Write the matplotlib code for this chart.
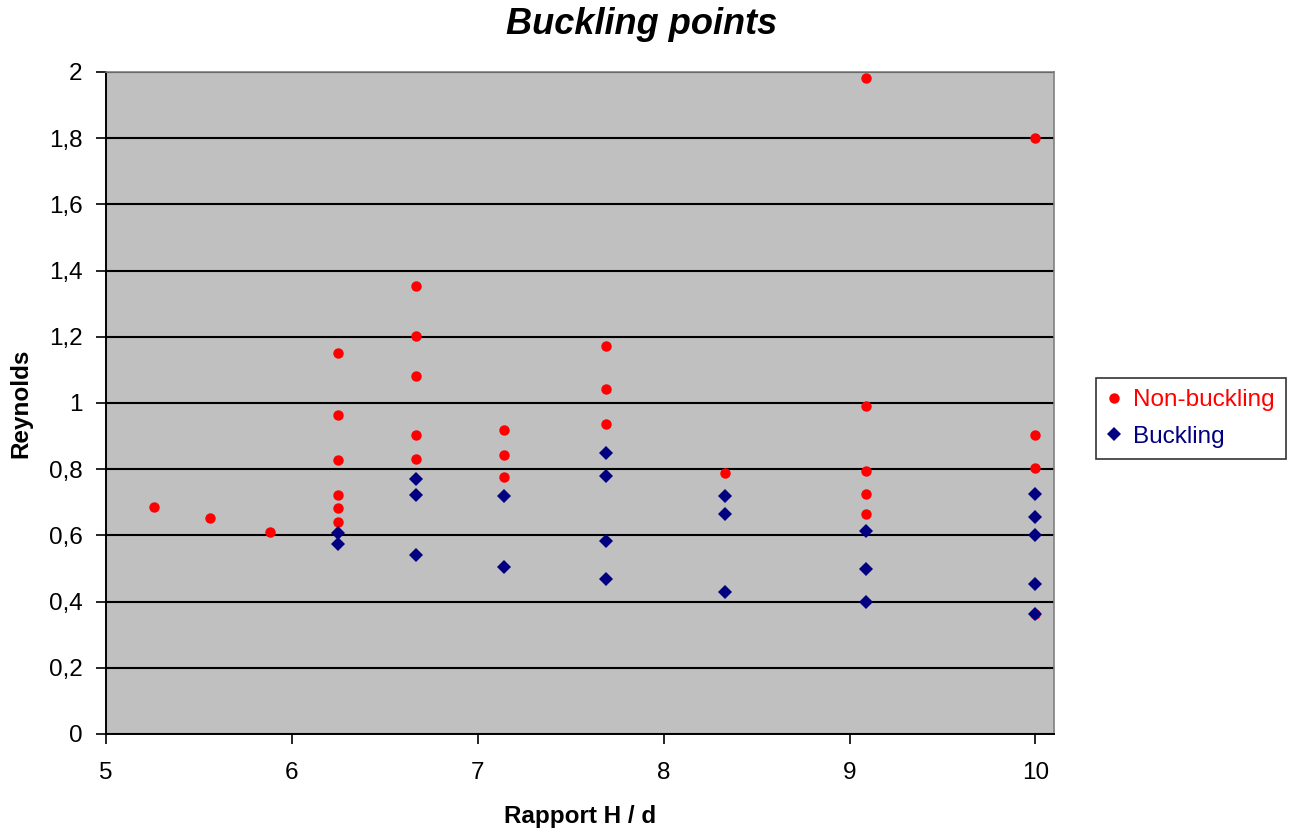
import matplotlib
matplotlib.use('Agg')
import matplotlib.pyplot as plt
from matplotlib.ticker import FuncFormatter, MultipleLocator

plt.rcParams['font.family'] = ['Liberation Sans', 'DejaVu Sans']

# ---- data ----
nb_x = [5.26, 5.56, 5.88,
        6.25, 6.25, 6.25, 6.25, 6.25, 6.25,
        6.67, 6.67, 6.67, 6.67, 6.67,
        7.14, 7.14, 7.14,
        7.69, 7.69, 7.69,
        8.33,
        9.09, 9.09, 9.09, 9.09, 9.09,
        10.0, 10.0, 10.0, 10.0]
nb_y = [0.687, 0.653, 0.611,
        1.152, 0.963, 0.828, 0.722, 0.682, 0.641,
        1.353, 1.202, 1.083, 0.903, 0.832,
        0.918, 0.842, 0.777,
        1.172, 1.042, 0.937,
        0.788,
        1.983, 0.992, 0.794, 0.724, 0.665,
        1.802, 0.903, 0.805, 0.363]

b_x = [6.25, 6.25,
       6.67, 6.67, 6.67,
       7.14, 7.14,
       7.69, 7.69, 7.69, 7.69,
       8.33, 8.33, 8.33,
       9.09, 9.09, 9.09,
       10.0, 10.0, 10.0, 10.0, 10.0]
b_y = [0.606, 0.575,
       0.771, 0.721, 0.541,
       0.719, 0.506,
       0.850, 0.779, 0.584, 0.468,
       0.719, 0.664, 0.430,
       0.613, 0.497, 0.399,
       0.724, 0.657, 0.602, 0.454, 0.363]

RED = '#FF0000'
NAVY = '#000080'

fig = plt.figure(figsize=(12.91, 8.32), dpi=100)
ax = fig.add_axes([106/1291, 1 - 734/832, (1054 - 106)/1291, (734 - 72)/832])
ax.set_facecolor('#C0C0C0')

ax.plot(nb_x, nb_y, linestyle='none', marker='o', ms=7.5, mew=0,
        color=RED, label='Non-buckling', zorder=3)
ax.plot(b_x, b_y, linestyle='none', marker='D', ms=7, mew=0,
        color=NAVY, label='Buckling', zorder=4)

ax.set_xlim(5, 10.1)
ax.set_ylim(0, 2)
ax.xaxis.set_major_locator(MultipleLocator(1))
ax.yaxis.set_major_locator(MultipleLocator(0.2))
ax.yaxis.set_major_formatter(FuncFormatter(lambda v, p: f'{v:.1f}'.rstrip('0').rstrip('.').replace('.', ',')))
ax.grid(axis='y', color='black', linewidth=1.5, zorder=1)
ax.set_axisbelow(True)

for s in ['top', 'right']:
    ax.spines[s].set_color('#808080')
    ax.spines[s].set_linewidth(1.2)
for s in ['left', 'bottom']:
    ax.spines[s].set_color('black')
    ax.spines[s].set_linewidth(1.4)

ax.tick_params(axis='both', direction='out', length=7, width=1.2, labelsize=17.5)
ax.tick_params(axis='y', pad=10)
ax.tick_params(axis='x', pad=13)

# title is centred on the whole chart area, not just the plot
fig.text(642/1291, 1 - 25/832, 'Buckling points', fontsize=26, fontweight='bold',
         style='italic', ha='center', va='center')
ax.set_xlabel('Rapport H / d', fontsize=17.5, fontweight='bold', labelpad=15)
ax.set_ylabel('Reynolds', fontsize=17.5, fontweight='bold', labelpad=12)

leg = ax.legend(loc='center left', bbox_to_anchor=(1.044, 1 - (418.5 - 72)/662),
                frameon=True, fancybox=False, edgecolor='black', fontsize=17.5,
                handlelength=0.6, handletextpad=0.5, borderpad=0.45,
                labelspacing=0.6, borderaxespad=0)
leg.get_frame().set_linewidth(1.2)
for t, c in zip(leg.get_texts(), [RED, NAVY]):
    t.set_color(c)

fig.savefig('out.png', dpi=100, facecolor='white')
